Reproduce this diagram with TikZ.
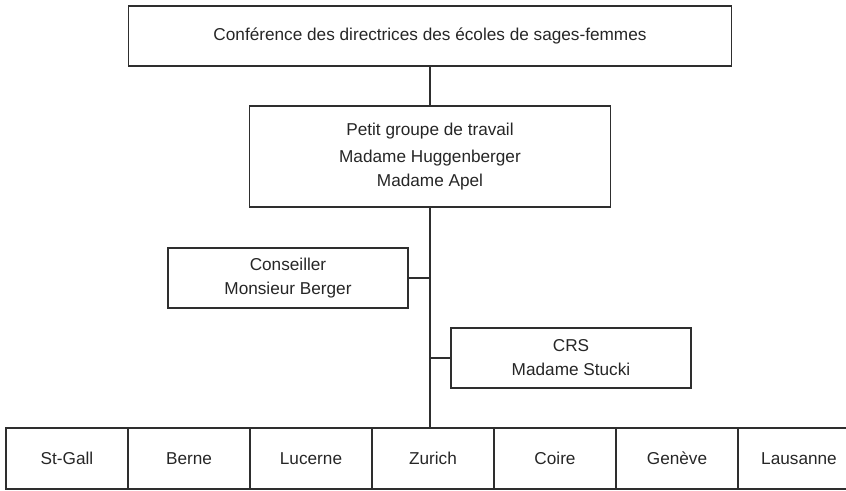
\documentclass[tikz,border=0pt]{standalone}
\usepackage{fontspec}
\setmainfont{Liberation Sans}
\definecolor{ink}{HTML}{2E2E2E}
\definecolor{txt}{HTML}{262626}
\begin{document}
\begin{tikzpicture}[x=1pt,y=-1pt,
  box/.style={draw=ink,line width=1.4pt,inner sep=0pt,align=center,text=txt,font=\fontsize{17.2}{24}\selectfont},
  conn/.style={draw=ink,line width=1.4pt}]
\useasboundingbox (0,0) rectangle (846,490);
\node[box,minimum width=603pt,minimum height=60pt] (top) at (430,36) {Conférence des directrices des écoles de sages-femmes};
\node[box,minimum width=361pt,minimum height=101pt] (petit) at (430,156.5) {Petit groupe de travail\\[3pt]Madame Huggenberger\\Madame Apel};
\node[box,minimum width=240pt,minimum height=60pt] (cons) at (288,278) {Conseiller\\Monsieur Berger};
\node[box,minimum width=240pt,minimum height=60pt] (crs) at (571,358) {CRS\\Madame Stucki};
\foreach \n/\t [count=\i from 0] in {sg/St-Gall,be/Berne,lu/Lucerne,zu/Zurich,co/Coire,ge/Genève,la/Lausanne}{
  \node[box,minimum width=122pt,minimum height=61pt] (\n) at (67+122*\i,458.5) {\t};
}
\coordinate (jb) at (430,428);
\draw[conn] (top.south) -- (petit.north);
\draw[conn] (petit.south) -- (jb);
\draw[conn] (cons.east) -- (cons.east -| petit.south);
\draw[conn] (crs.west) -- (crs.west -| petit.south);
\end{tikzpicture}
\end{document}
